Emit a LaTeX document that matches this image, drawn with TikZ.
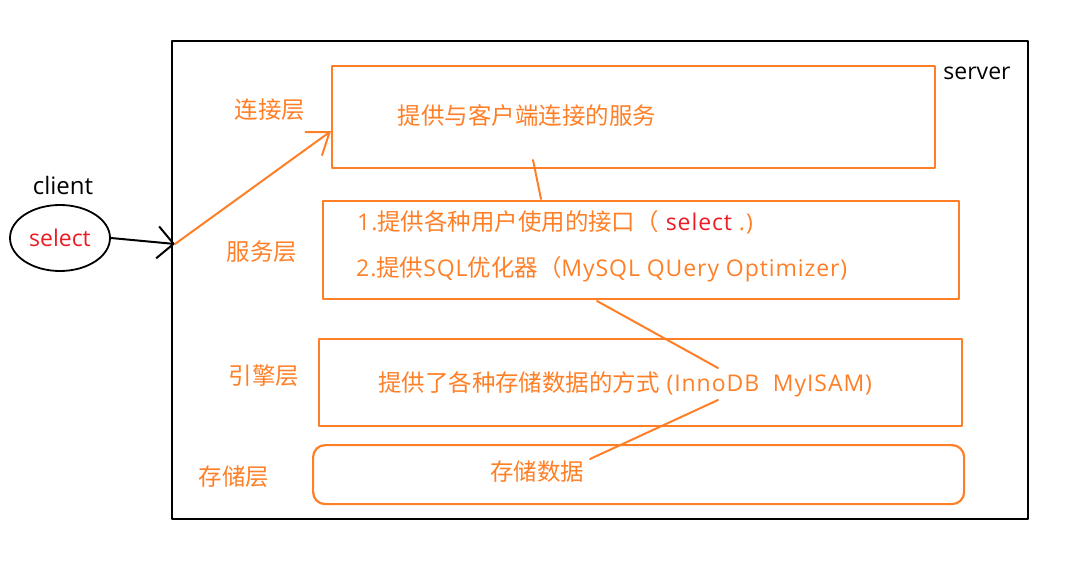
\documentclass[tikz,border=0pt]{standalone}
\usepackage{fontspec}
\setmainfont{Open Sans}
\newfontfamily\widelatin{Open Sans}[LetterSpace=4]
\newfontfamily\cjk{Noto Sans CJK SC}[Scale=1.02]
\usetikzlibrary{positioning,shapes.geometric,arrows.meta}
\definecolor{paintorange}{RGB}{255,127,39}
\definecolor{paintred}{RGB}{237,28,36}
\tikzset{
  layerbox/.style={draw=paintorange, line width=2.2pt, anchor=north west, inner sep=0pt},
  layername/.style={text=paintorange},
  layertext/.style={text=paintorange, anchor=west, inner sep=0pt, font=\fontsize{23}{27}\widelatin},
  handline/.style={draw=paintorange, line width=2pt},
}
\begin{document}
\begin{tikzpicture}[x=1pt, y=-1pt, line join=round, line cap=round, font=\fontsize{23}{27}\selectfont]
	\useasboundingbox (0,0) rectangle (1083,569);
	% server frame
	\node[draw, line width=2pt, anchor=north west, inner sep=0pt, minimum width=856pt, minimum height=478pt] (server) at (171,40) {};
	\node[font=\fontsize{23}{26}\selectfont] (servername) at (977,73) {server};
	% client
	\node[font=\fontsize{24}{27}\selectfont] (clientname) at (63,186) {client};
	\node[ellipse, draw, line width=1.8pt, minimum width=100pt, minimum height=66pt, inner sep=0pt, text=paintred] (client) at (60,238) {select};
	% layers
	\node[layerbox, minimum width=603pt, minimum height=102pt] (conn) at (331,65) {};
	\node[layerbox, minimum width=636pt, minimum height=98pt] (service) at (322,200) {};
	\node[layerbox, minimum width=643pt, minimum height=87pt] (engine) at (318,338) {};
	\node[layerbox, rounded corners=12pt, minimum width=651pt, minimum height=59pt] (storage) at (312,444) {};
	\node[layername] (connname) at (270,110) {\cjk 连接层};
	\node[layername] (servicename) at (262,252) {\cjk 服务层};
	\node[layername] (enginename) at (264,376) {\cjk 引擎层};
	\node[layername] (storagename) at (234,477) {\cjk 存储层};
	\node[layertext, anchor=center] (conntext) at (527,116) {\cjk 提供与客户端连接的服务};
	\node[layertext] (servicetexta) at (357,222) {1.{\cjk 提供各种用户使用的接口（}\ \textcolor{paintred}{select} .)};
	\node[layertext] (servicetextb) at (356,269) {2.{\cjk 提供}SQL{\cjk 优化器（}MySQL QUery Optimizer)};
	\node[layertext] (enginetext) at (378,384) {{\cjk 提供了各种存储数据的方式} (InnoDB\ \ MyISAM)};
	\node[layertext, anchor=center] (storagetext) at (537,472) {\cjk 存储数据};
	% request path
	\coordinate (entry) at (175,244);
	\draw[line width=2pt, -{Straight Barb[length=16pt,width=32pt]}] (client.east) -- (entry);
	\draw[handline, -{Straight Barb[length=20pt,width=29pt]}] (entry) -- ([yshift=-14pt]conn.west);
	% hand drawn strokes
	\coordinate (a1) at (533,160);
	\coordinate (a2) at (541,199);
	\coordinate (b1) at (597,301);
	\coordinate (b2) at (718,368);
	\coordinate (c1) at (718,400);
	\coordinate (c2) at (590,459);
	\draw[handline] (a1) -- (a2);
	\draw[handline] (b1) -- (b2);
	\draw[handline] (c1) -- (c2);
\end{tikzpicture}
\end{document}
